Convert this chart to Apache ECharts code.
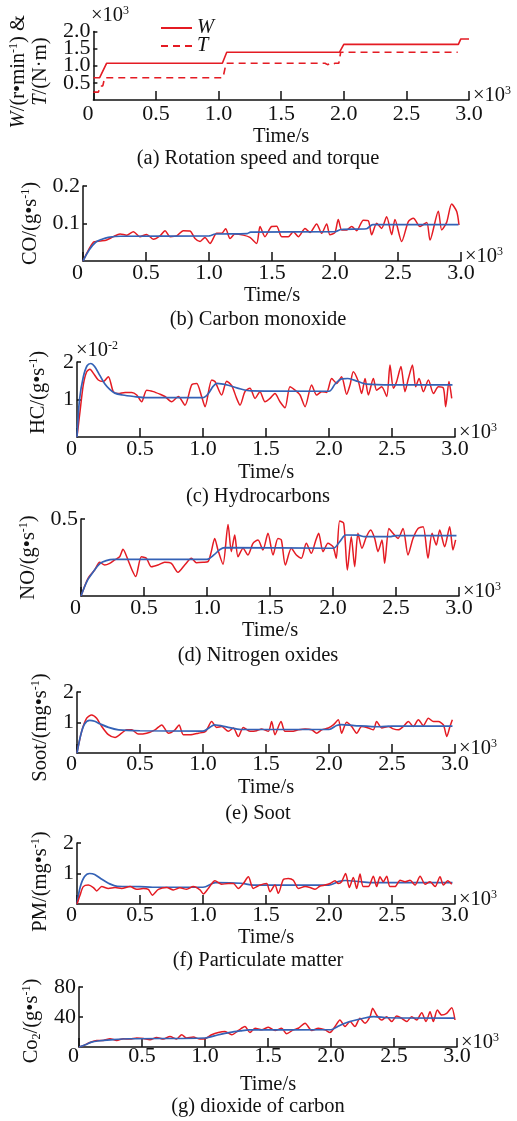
<!DOCTYPE html>
<html><head><meta charset="utf-8">
<script src="https://cdn.jsdelivr.net/npm/echarts@6/dist/echarts.min.js"></script>
<style>html,body{margin:0;padding:0;background:#fff}#c{width:517px;height:1121px}</style>
</head><body><div id="c"></div>
<script>
// ---------- data ----------
const xTickLabels = ['0','0.5','1.0','1.5','2.0','2.5','3.0'];

// (a) rotation speed W (x10^3 r/min) and torque T (x10^3 N·m)
const speedTime = [0,50,105,1030,1065,1965,2000,2915,2935,3000];
const speedW    = [0.65,0.65,1.07,1.07,1.39,1.39,1.62,1.62,1.78,1.78];
const torqueTime = [0,40,55,75,90,1035,1060,1850,1870,1890,1910,1930,1960,1975,2910];
const torqueT    = [0.23,0.23,0.41,0.41,0.65,0.65,1.07,1.07,1.03,1.06,1.04,1.07,1.07,1.39,1.39];

// (b) CO
const coMeasTime = [0,82,135,188,241,294,347,400,452,505,558,611,651,690,743,796,849,889,929,968,1008,1061,1101,1132,1167,1206,1272,1325,1378,1405,1444,1497,1537,1577,1630,1669,1709,1762,1802,1854,1894,1934,1960,2000,2026,2053,2093,2132,2172,2225,2265,2291,2331,2370,2410,2450,2476,2529,2582,2622,2675,2728,2754,2820,2847,2886,2926,2966,2984];
const coMeas     = [0,0.05,0.053,0.056,0.065,0.072,0.069,0.078,0.065,0.071,0.058,0.067,0.081,0.065,0.067,0.081,0.08,0.06,0.052,0.063,0.047,0.074,0.074,0.086,0.06,0.072,0.069,0.063,0.047,0.092,0.065,0.092,0.093,0.065,0.065,0.078,0.065,0.087,0.076,0.099,0.074,0.099,0.07,0.076,0.111,0.083,0.083,0.092,0.081,0.109,0.107,0.07,0.101,0.087,0.118,0.07,0.111,0.052,0.105,0.114,0.092,0.103,0.056,0.133,0.083,0.103,0.152,0.132,0.096];
const coSimTime = [0,50,100,150,200,300,1000,1050,1300,1330,2000,2050,2250,2300,2980];
const coSim     = [0,0.03,0.05,0.058,0.063,0.066,0.067,0.072,0.073,0.077,0.078,0.084,0.086,0.097,0.097];

// (c) HC (x10^-2 g/s)
const hcMeasTime = [0,24,50,77,103,130,169,209,249,288,328,381,434,474,513,553,606,659,698,751,804,857,910,950,989,1016,1069,1095,1148,1188,1228,1267,1294,1333,1373,1413,1452,1492,1532,1571,1611,1651,1690,1730,1770,1810,1862,1902,1942,1981,2021,2061,2100,2140,2167,2193,2233,2259,2286,2312,2352,2378,2418,2458,2484,2511,2537,2571,2603,2630,2662,2688,2715,2749,2789,2829,2868,2908,2926,2952,2974];
const hcMeas     = [0,0.68,1.39,1.74,1.81,1.7,1.52,1.48,1.61,1.21,1.16,1.19,1.19,1.12,0.94,1.25,1.21,1.14,1.08,0.94,1.08,0.85,1.39,1.43,1.08,0.81,1.52,1.48,1.12,1.49,1.37,1.03,0.85,1.21,1.3,1.03,1.21,0.94,1.03,1.16,0.94,0.78,1.34,1.25,1.12,0.81,1.39,1.12,1.21,1.19,1.56,1.43,1.61,1.14,1.39,1.74,1.48,1.16,1.56,1.12,1.56,1.25,1.34,1.08,1.92,1.3,1.48,1.88,1.21,1.56,1.92,1.34,1.56,1.21,1.52,1.16,1.34,1.3,0.81,1.48,1.03];
const hcSimTime = [0,20,50,80,110,140,180,220,260,300,360,450,550,1000,1040,1080,1110,1200,1300,1380,2000,2050,2100,2150,2230,2300,2500,2980];
const hcSim     = [0,1.0,1.6,1.9,1.96,1.88,1.65,1.42,1.27,1.17,1.12,1.08,1.05,1.05,1.15,1.35,1.43,1.38,1.28,1.23,1.22,1.42,1.55,1.56,1.48,1.41,1.39,1.39];

// (d) NO
const noMeasTime = [0,56,108,148,188,228,267,307,333,373,405,434,479,519,558,611,664,717,770,823,876,915,968,1008,1034,1061,1087,1127,1167,1193,1220,1246,1286,1325,1365,1405,1444,1484,1524,1563,1590,1622,1669,1709,1749,1788,1828,1860,1886,1921,1960,2000,2026,2053,2085,2114,2145,2172,2198,2230,2265,2299,2331,2357,2389,2410,2444,2476,2516,2556,2595,2635,2675,2715,2754,2786,2820,2847,2886,2926,2952,2973];
const noMeas     = [0,0.115,0.169,0.219,0.201,0.212,0.234,0.255,0.303,0.234,0.169,0.126,0.255,0.245,0.19,0.201,0.219,0.212,0.154,0.201,0.245,0.216,0.219,0.223,0.288,0.374,0.299,0.206,0.465,0.288,0.396,0.255,0.31,0.266,0.342,0.364,0.299,0.407,0.266,0.374,0.364,0.201,0.31,0.266,0.245,0.342,0.277,0.353,0.407,0.288,0.342,0.32,0.245,0.487,0.472,0.169,0.385,0.19,0.407,0.31,0.385,0.429,0.374,0.288,0.364,0.212,0.439,0.407,0.374,0.439,0.266,0.374,0.439,0.45,0.245,0.407,0.331,0.429,0.32,0.45,0.299,0.364];
const noSimTime = [0,50,100,150,200,260,1000,1060,1100,1140,2000,2060,2100,2200,2250,2450,2500,2980];
const noSim     = [0,0.1,0.16,0.21,0.23,0.238,0.238,0.27,0.3,0.314,0.31,0.36,0.396,0.395,0.385,0.385,0.392,0.392];

// (e) Soot
const sootMeasTime = [0,37,77,116,156,196,249,302,354,394,434,487,553,619,672,725,778,810,844,897,963,1021,1069,1108,1148,1201,1241,1280,1320,1373,1426,1466,1519,1545,1571,1619,1651,1704,1757,1810,1863,1902,1942,1995,2034,2074,2100,2140,2180,2220,2259,2312,2352,2378,2418,2471,2511,2550,2590,2630,2669,2709,2749,2789,2829,2868,2908,2935,2960,2979];
const sootMeas     = [0,0.71,1.14,1.25,1.14,0.87,0.6,0.51,0.65,0.76,0.76,0.62,0.65,0.76,0.92,0.65,0.76,0.92,0.6,0.6,0.65,0.71,1.03,0.84,0.87,0.71,0.82,0.54,0.84,0.71,0.73,0.79,0.71,1.03,0.6,1.03,0.71,0.71,0.76,0.79,0.76,0.65,0.76,0.82,0.92,1.09,0.65,1.01,0.87,0.65,0.87,0.82,0.76,1.03,0.82,0.87,0.79,0.76,0.87,1.03,0.87,1.09,0.9,1.14,1.03,1.03,0.92,0.54,0.87,1.09];
const sootSimTime = [0,30,60,100,140,180,250,330,500,1000,1050,1090,1200,1300,2000,2060,2100,2200,2400,2500,2980];
const sootSim     = [0,0.6,0.95,1.07,1.04,0.96,0.84,0.76,0.73,0.72,0.83,0.92,0.84,0.77,0.77,0.9,0.93,0.9,0.86,0.88,0.88];

// (f) PM
const pmMeasTime = [0,24,50,90,130,156,196,249,302,354,421,474,526,566,598,646,712,765,817,870,923,976,1003,1042,1095,1148,1201,1241,1280,1320,1360,1399,1452,1505,1532,1571,1598,1637,1677,1717,1757,1810,1849,1889,1929,1968,2008,2048,2074,2100,2132,2161,2193,2220,2246,2272,2312,2352,2378,2405,2431,2458,2484,2524,2564,2603,2643,2683,2723,2762,2802,2842,2881,2908,2942,2974];
const pmMeas     = [0,0.29,0.57,0.62,0.54,0.43,0.57,0.51,0.54,0.51,0.57,0.48,0.51,0.48,0.29,0.48,0.54,0.46,0.53,0.48,0.57,0.46,0.33,0.51,0.76,0.65,0.67,0.67,0.51,0.67,0.89,0.51,0.62,0.67,0.4,0.62,0.35,0.8,0.84,0.78,0.51,0.57,0.54,0.48,0.59,0.62,0.67,0.76,0.67,0.73,1.0,0.54,0.87,0.51,0.98,0.57,0.57,0.91,0.57,0.89,0.73,0.91,0.57,0.57,0.78,0.73,0.78,0.62,0.91,0.65,0.73,0.57,0.89,0.62,0.76,0.65];
const pmSimTime = [0,25,60,100,140,190,260,320,500,600,1000,1100,1300,1400,2000,2080,2130,2250,2350,2980];
const pmSim     = [0,0.55,0.9,1.0,0.97,0.83,0.66,0.58,0.57,0.55,0.55,0.7,0.68,0.62,0.62,0.74,0.77,0.73,0.7,0.7];

// (g) CO2
const co2MeasTime = [0,34,87,140,193,246,299,352,405,458,511,563,616,669,722,775,815,855,907,960,1000,1053,1106,1159,1212,1265,1317,1357,1397,1450,1503,1556,1608,1648,1701,1741,1794,1847,1900,1952,1992,2032,2071,2111,2151,2190,2230,2270,2310,2331,2362,2402,2442,2482,2521,2561,2601,2640,2680,2720,2754,2786,2812,2844,2878,2918,2958,2984];
const co2Meas     = [0,1.8,6,8.8,8.8,11,8.8,11,10.6,11.9,11.4,9.7,12.8,10.6,14,10.6,16.3,11.9,13.2,10.6,11,16.3,19.4,20.7,16.3,22,27.3,19.4,25,22.9,26.4,22,25,17.6,22.9,25,31.7,22,25,22.9,19.4,27.3,36,27.3,33.9,27.3,38.3,31.7,40.5,51.5,42.7,36,40.5,33.9,41.4,38.3,33.9,40.5,36,45.8,33.9,47,33.9,49.3,42.7,44.9,52.4,36];
const co2SimTime = [0,50,100,150,250,400,1000,1100,1200,1280,1350,2000,2050,2100,2150,2250,2340,2450,2980];
const co2Sim     = [0,3,6.5,8,9.5,11,12,16,19.5,21.5,22.9,23,27,31,34,38,40.5,39,38.5];

// y tick values per panel (panel a split in two label sets so none get hidden)
const yTicksA  = [0.5,1.0,1.5,2.0];
const yLabelsA1 = [0.5,1.5];
const yLabelsA2 = [1.0,2.0];
const yTicksB = [0.1,0.2];
const yTicksC = [1,2];
const yTicksD = [0.5];
const yTicksE = [1,2];
const yTicksF = [1,2];
const yTicksG = [40,80];

// ---------- styling / layout ----------
const FONT = 'Liberation Serif';
const INK = '#111';
const RED = '#e41b23';
const BLUE = '#3462b6';
const TXT = 20.5;   // names / captions
const TCK = 22;     // tick labels
const zip = (t, v) => t.map((x, i) => [x, v[i]]);

const layout = [
  {left:92, top:27,  width:377, height:73, lblMargin:3,   timeGap:26, yGap:37, yShift:6,  cap:159},
  {left:83, top:186, width:378, height:75, lblMargin:1,   timeGap:24, yGap:38, yShift:0,  cap:320},
  {left:77, top:362, width:378, height:75, lblMargin:1,   timeGap:25, yGap:27, yShift:-7, cap:497},
  {left:81, top:519, width:378, height:77, lblMargin:1,   timeGap:23, yGap:36, yShift:0,  cap:656},
  {left:77, top:692, width:378, height:61, lblMargin:0,   timeGap:24, yGap:25, yShift:5,  cap:814},
  {left:77, top:843, width:378, height:61, lblMargin:0.5, timeGap:20, yGap:24, yShift:8,  cap:961},
  {left:79, top:987, width:378, height:60, lblMargin:-2,  timeGap:27, yGap:29, yShift:4,  cap:1107}
];

const f1 = v => v.toFixed(1);
const f0 = v => String(v);
const panels = [
  {yMax:2,   yTicks:yTicksA, yLabels:yLabelsA1, fmt:f1, yName:'{i|W}/(r•min{sup|-1}) &\n{i|T}/(N·m)', exp:'×10{sup|3}', caption:'(a) Rotation speed and torque'},
  {yMax:0.2, yTicks:yTicksB, fmt:f1, yName:'CO/(g•s{sup|-1})', caption:'(b) Carbon monoxide',
   meas:zip(coMeasTime, coMeas), sim:zip(coSimTime, coSim)},
  {yMax:2,   yTicks:yTicksC, fmt:f0, yName:'HC/(g•s{sup|-1})', exp:'×10{sup|-2}', caption:'(c) Hydrocarbons',
   meas:zip(hcMeasTime, hcMeas), sim:zip(hcSimTime, hcSim)},
  {yMax:0.5, yTicks:yTicksD, fmt:f1, yName:'NO/(g•s{sup|-1})', caption:'(d) Nitrogen oxides',
   meas:zip(noMeasTime, noMeas), sim:zip(noSimTime, noSim)},
  {yMax:2,   yTicks:yTicksE, fmt:f0, yName:'Soot/(mg•s{sup|-1})', caption:'(e) Soot',
   meas:zip(sootMeasTime, sootMeas), sim:zip(sootSimTime, sootSim)},
  {yMax:2,   yTicks:yTicksF, fmt:f0, yName:'PM/(mg•s{sup|-1})', caption:'(f) Particulate matter', redTop:true,
   meas:zip(pmMeasTime, pmMeas), sim:zip(pmSimTime, pmSim)},
  {yMax:80,  yTicks:yTicksG, fmt:f0, yName:'Co{sub|2}/(g•s{sup|-1})', caption:'(g) dioxide of carbon',
   meas:zip(co2MeasTime, co2Meas), sim:zip(co2SimTime, co2Sim)}
];

const richText = {
  i:   {fontFamily:FONT, fontSize:TXT, fontStyle:'italic', color:INK, lineHeight:22},
  sup: {fontFamily:FONT, fontSize:12, color:INK, verticalAlign:'top', lineHeight:12},
  sub: {fontFamily:FONT, fontSize:12, color:INK, verticalAlign:'bottom', lineHeight:12}
};

const grids = [], xAxes = [], yAxes = [], series = [], graphics = [];
panels.forEach((p, i) => {
  const L = layout[i];
  grids.push({left:L.left, top:L.top, width:L.width, height:L.height});
  xAxes.push({
    gridIndex:i, type:'value', min:0, max:3000, interval:500,
    name:'Time/s', nameLocation:'middle', nameGap:L.timeGap,
    nameTextStyle:{fontFamily:FONT, fontSize:TXT, fontWeight:'normal', color:INK},
    axisLine:{show:true, onZero:false, lineStyle:{color:INK, width:1.5}},
    axisTick:{show:true, inside:true, length:9, lineStyle:{color:INK, width:1.5}},
    axisLabel:{margin:L.lblMargin, fontFamily:FONT, fontSize:TCK, color:INK,
      alignMinLabel:'right', showMaxLabel:true, showMinLabel:true,
      formatter: v => xTickLabels[Math.round(v / 500)]},
    splitLine:{show:false}
  });
  const pad = L.yShift >= 0 ? [0, 2 * L.yShift, 0, 0] : [0, 0, 0, -2 * L.yShift];
  yAxes.push({
    gridIndex:i, type:'value', min:0, max:p.yMax,
    name:p.yName, nameLocation:'middle', nameGap:L.yGap,
    nameTextStyle:{fontFamily:FONT, fontSize:TXT, fontWeight:'normal', color:INK, lineHeight:22, rich:richText, padding:pad},
    axisLine:{show:true, onZero:false, lineStyle:{color:INK, width:1.5}},
    axisTick:{show:true, inside:true, length:4, customValues:p.yTicks, lineStyle:{color:INK, width:1.5}},
    axisLabel:{margin:3, fontFamily:FONT, fontSize:TCK, color:INK, customValues:p.yLabels || p.yTicks,
      hideOverlap:false, formatter: v => p.fmt(v)},
    splitLine:{show:false}
  });
  if (i === 0) {
    series.push({name:'W', type:'line', xAxisIndex:0, yAxisIndex:0, data:zip(speedTime, speedW),
      symbol:'none', lineStyle:{color:RED, width:1.6}, itemStyle:{color:RED}});
    series.push({name:'T', type:'line', xAxisIndex:0, yAxisIndex:0, data:zip(torqueTime, torqueT),
      symbol:'none', lineStyle:{color:RED, width:1.6, type:[7,5]}, itemStyle:{color:RED}});
  } else {
    series.push({type:'line', xAxisIndex:i, yAxisIndex:i, data:p.meas, symbol:'none', smooth:0.25,
      z: p.redTop ? 4 : 2, lineStyle:{color:RED, width:1.5}});
    series.push({type:'line', xAxisIndex:i, yAxisIndex:i, data:p.sim, symbol:'none', smooth:0.3,
      z: 3, lineStyle:{color:BLUE, width:1.7}});
  }
  // "×10^3" at right end of time axis
  graphics.push({type:'text', left:L.left + L.width + 4, top:L.top + L.height - 15,
    style:{text:'×10{sup|3}', rich:richText, fontFamily:FONT, fontSize:TXT, fill:INK}});
  if (p.exp) {
    graphics.push({type:'text', left:L.left - 1, top:L.top - 22,
      style:{text:p.exp, rich:richText, fontFamily:FONT, fontSize:TXT, fill:INK}});
  }
  graphics.push({type:'text', x:258, y:L.cap,
    style:{text:p.caption, fontFamily:FONT, fontSize:TXT, fill:INK, align:'center', verticalAlign:'middle'}});
});
// second label-only y axis for panel (a)
yAxes.push({
  gridIndex:0, type:'value', min:0, max:panels[0].yMax, position:'left',
  axisLine:{show:false}, axisTick:{show:false}, splitLine:{show:false},
  axisLabel:{margin:3, fontFamily:FONT, fontSize:TCK, color:INK, customValues:yLabelsA2,
    formatter: v => f1(v)}
});

const chart = echarts.init(document.getElementById('c'));
chart.setOption({
  animation:false,
  backgroundColor:'#fff',
  grid:grids, xAxis:xAxes, yAxis:yAxes, series:series,
  legend:{data:['W','T'], orient:'vertical', left:155, top:13, itemWidth:31, itemHeight:12, itemGap:-2,
    itemStyle:{opacity:0},
    textStyle:{fontFamily:FONT, fontSize:TXT, fontStyle:'italic', color:INK}},
  graphic:graphics
});
</script></body></html>
